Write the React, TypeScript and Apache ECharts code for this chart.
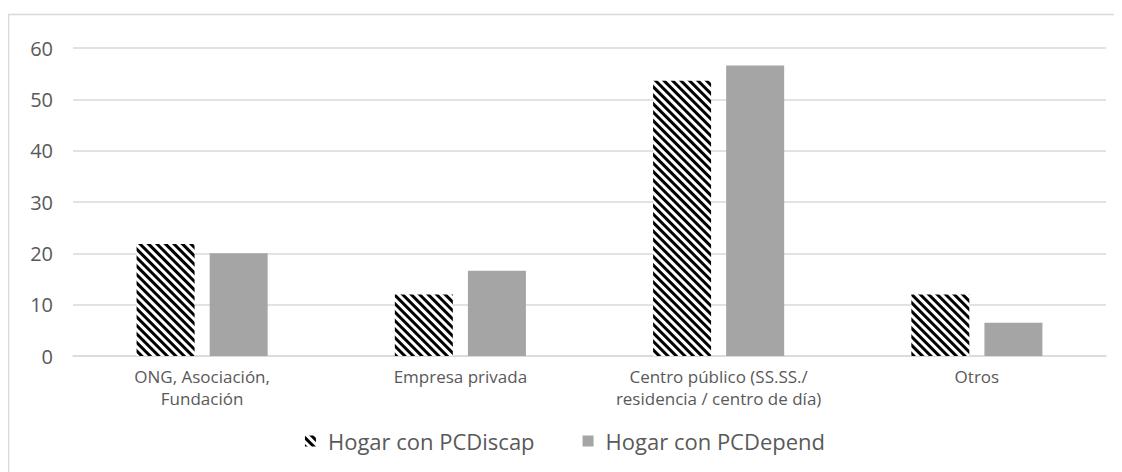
import React, { useEffect, useRef } from "react";
import * as echarts from "echarts";

const categories = [
  "ONG, Asociación,\nFundación",
  "Empresa privada",
  "Centro público (SS.SS./\nresidencia / centro de día)",
  "Otros",
];
const seriesNames = ["Hogar con PCDiscap", "Hogar con PCDepend"];
const discapValues = [21.8, 12.0, 53.6, 12.0];
const dependValues = [20.0, 16.6, 56.6, 6.5];
const yTicks = { min: 0, max: 60, interval: 10 };

const FONT = "'Open Sans', 'Noto Sans', sans-serif";
const TEXT = "#595959";

export default function App() {
  const ref = useRef<HTMLDivElement>(null);
  useEffect(() => {
    if (!ref.current) return;
    const chart = echarts.init(ref.current, undefined, { renderer: "svg" });
    const hatch = {
      symbol: "rect",
      symbolSize: 1,
      color: "#000000",
      backgroundColor: "#ffffff",
      dashArrayX: [1, 0],
      dashArrayY: [2.6, 2.6],
      rotation: Math.PI / 4,
    };
    chart.setOption({
      animation: false,
      backgroundColor: "#ffffff",
      textStyle: { fontFamily: FONT },
      graphic: [
        {
          type: "line",
          shape: { x1: 0, y1: 6.5, x2: 1114, y2: 6.5 },
          style: { stroke: "#d9d9d9", lineWidth: 1.5 },
        },
        {
          type: "line",
          shape: { x1: 0.5, y1: 6, x2: 0.5, y2: 464 },
          style: { stroke: "#d9d9d9", lineWidth: 1.5 },
        },
      ],
      grid: { left: 65, right: 16, top: 40, height: 308 },
      legend: {
        top: 417,
        left: "center",
        itemWidth: 11,
        itemHeight: 11,
        itemGap: 48,
        icon: "rect",
        textStyle: {
          color: TEXT,
          fontSize: 22,
          fontFamily: FONT,
          padding: [0, 0, 0, 7],
        },
        data: seriesNames,
      },
      xAxis: {
        type: "category",
        data: categories,
        axisLine: { lineStyle: { color: "#d9d9d9", width: 1.5 } },
        axisTick: { show: false },
        axisLabel: {
          color: TEXT,
          fontSize: 17,
          lineHeight: 22,
          margin: 9,
          interval: 0,
          fontFamily: FONT,
        },
      },
      yAxis: {
        type: "value",
        min: yTicks.min,
        max: yTicks.max,
        interval: yTicks.interval,
        axisLine: { show: false },
        axisTick: { show: false },
        splitLine: { lineStyle: { color: "#d9d9d9", width: 1.5 } },
        axisLabel: { color: TEXT, fontSize: 20, margin: 20, fontFamily: FONT },
      },
      series: [
        {
          name: seriesNames[0],
          type: "bar",
          data: discapValues,
          barWidth: 58,
          barGap: "26%",
          itemStyle: { color: "#ffffff", decal: hatch },
        },
        {
          name: seriesNames[1],
          type: "bar",
          data: dependValues,
          barWidth: 58,
          itemStyle: { color: "#a5a5a5" },
        },
      ],
    });
    return () => chart.dispose();
  }, []);
  return <div ref={ref} style={{ width: 1114, height: 464 }} />;
}
